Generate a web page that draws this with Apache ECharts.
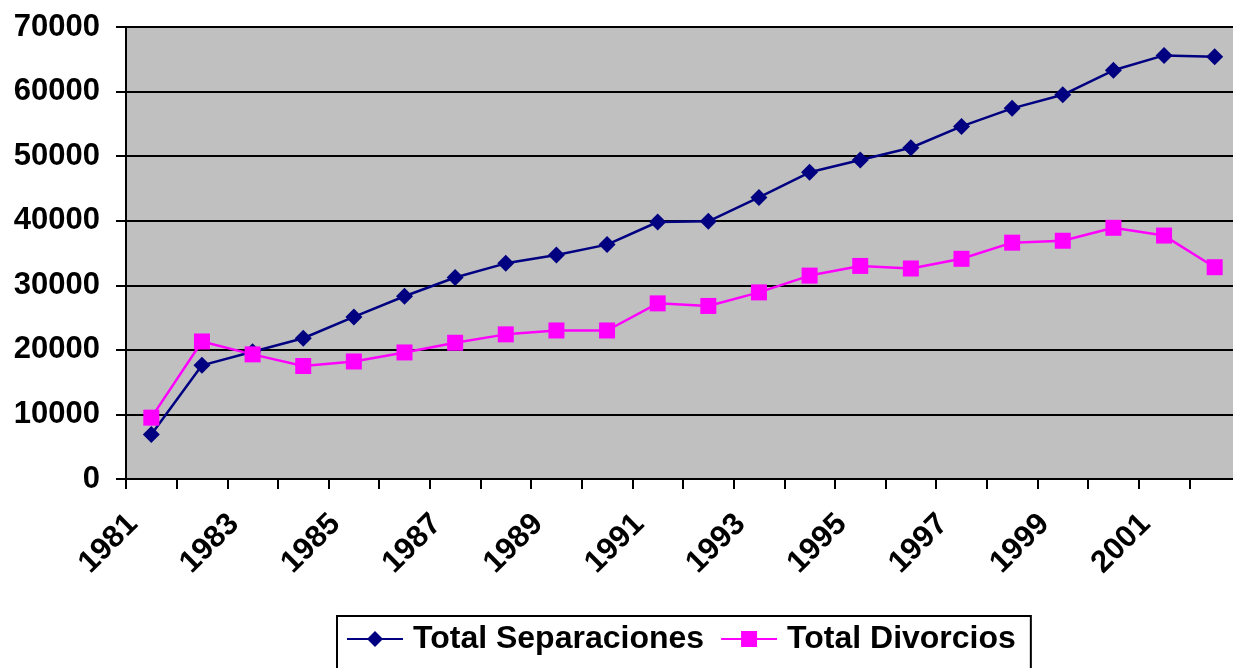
<!DOCTYPE html>
<html>
<head>
<meta charset="utf-8">
<script src="https://cdn.jsdelivr.net/npm/echarts@6/dist/echarts.min.js"></script>
<style>
html,body{margin:0;padding:0;background:#fff;overflow:hidden;}
#chart{width:1240px;height:668px;}
</style>
</head>
<body>
<div id="chart"></div>
<script>
const years = ['1981','1982','1983','1984','1985','1986','1987','1988','1989','1990','1991','1992','1993','1994','1995','1996','1997','1998','1999','2000','2001','2002'];
const separaciones = [6900,17600,19700,21800,25100,28300,31200,33400,34700,36300,39800,39900,43600,47500,49400,51300,54600,57400,59500,63300,65600,65400];
const divorcios = [9500,21300,19300,17500,18200,19600,21100,22400,23000,23000,27200,26800,28900,31500,33000,32600,34100,36600,36900,38900,37700,32800];
const yTicks = {min:0, max:70000, interval:10000};

const FONT = 'Liberation Sans, Arial, sans-serif';
const chart = echarts.init(document.getElementById('chart'));
chart.setOption({
  animation:false,
  textStyle:{fontFamily:FONT},
  grid:{left:126, top:27, right:0, bottom:189, show:true, backgroundColor:'#c0c0c0', borderColor:'#808080', borderWidth:2},
  legend:{
    left:337, top:616, itemWidth:56, itemHeight:20, itemGap:16,
    padding:[7,15,30,9],
    borderColor:'#000', borderWidth:2, backgroundColor:'#fff',
    textStyle:{fontSize:32, fontWeight:'bold', color:'#000', fontFamily:FONT, padding:[0,0,0,5]},
    data:['Total Separaciones','Total Divorcios']
  },
  xAxis:{
    type:'category', data:years, boundaryGap:true,
    axisLine:{lineStyle:{color:'#000', width:2}},
    axisTick:{show:true, interval:0, length:10, lineStyle:{color:'#000', width:2}},
    axisLabel:{interval:1, rotate:45, fontSize:31, fontWeight:'bold', color:'#000', margin:22, padding:[0,26,0,0], fontFamily:FONT},
    splitLine:{show:false}
  },
  yAxis:{
    type:'value', min:yTicks.min, max:yTicks.max, interval:yTicks.interval,
    axisLine:{show:true, lineStyle:{color:'#000', width:2}},
    axisTick:{show:true, length:10, lineStyle:{color:'#000', width:2}},
    axisLabel:{fontSize:31, fontWeight:'bold', color:'#000', margin:26, fontFamily:FONT, formatter:function(v){return String(v);}},
    splitLine:{show:true, lineStyle:{color:'#000', width:2}}
  },
  series:[
    {name:'Total Separaciones', type:'line', data:separaciones, symbol:'diamond', symbolSize:17,
     lineStyle:{color:'#000080', width:2.5}, itemStyle:{color:'#000080'}},
    {name:'Total Divorcios', type:'line', data:divorcios, symbol:'rect', symbolSize:16,
     lineStyle:{color:'#ff00ff', width:2.5}, itemStyle:{color:'#ff00ff'}}
  ]
});
</script>
</body>
</html>
